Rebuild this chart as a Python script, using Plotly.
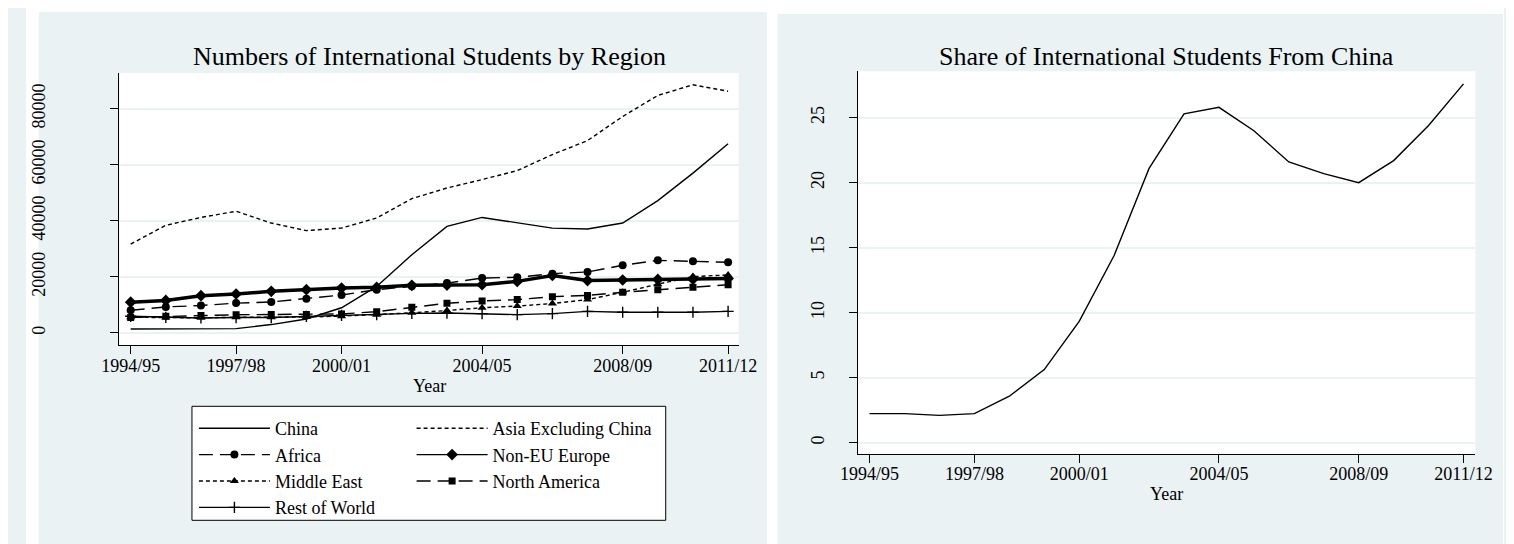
import plotly.graph_objects as go

# academic years on the x axis
years = ["1994/95", "1995/96", "1996/97", "1997/98", "1998/99", "1999/00",
         "2000/01", "2001/02", "2002/03", "2003/04", "2004/05", "2005/06",
         "2006/07", "2007/08", "2008/09", "2009/10", "2010/11", "2011/12"]
tick_years = ["1994/95", "1997/98", "2000/01", "2004/05", "2008/09", "2011/12"]

# student numbers by region
china = [1400, 1400, 1500, 1550, 3000, 5000, 9000, 16600, 27900, 38000,
         41200, 39200, 37400, 37100, 39200, 47200, 57000, 67500]
asia_ex_china = [31700, 38400, 41200, 43400, 39200, 36500, 37400, 41000, 47900, 51700,
                 54700, 57900, 63600, 68600, 77200, 84700, 88500, 86200]
africa = [8100, 9300, 9800, 10650, 11050, 12250, 13550, 15450, 16650, 17800,
          19600, 19850, 21150, 21750, 24150, 25900, 25550, 25200]
non_eu_europe = [11000, 11600, 13300, 13900, 14850, 15450, 16000, 16300, 17000, 17100,
                 17200, 18400, 20500, 18700, 18900, 19100, 19200, 19400]
middle_east = [5600, 5500, 5400, 5600, 5600, 5700, 6000, 6500, 7200, 8000,
               9000, 9600, 10500, 11900, 14500, 17400, 20100, 20700]
north_america = [5500, 5950, 6200, 6500, 6600, 6600, 6800, 7600, 9150, 10600,
                 11400, 11900, 12950, 13400, 14500, 15450, 16300, 17200]
rest_of_world = [5950, 5600, 5350, 5500, 5500, 5900, 6300, 6500, 7000, 7100,
                 6900, 6550, 6900, 7700, 7400, 7400, 7400, 7700]

# share of international students from china, percent
china_share = [2.23, 2.23, 2.1, 2.23, 3.57, 5.62, 9.33, 14.4, 21.1, 25.3,
               25.8, 24.0, 21.6, 20.7, 20.0, 21.7, 24.4, 27.6]

count_ticks = [0, 20000, 40000, 60000, 80000]
share_ticks = [0, 5, 10, 15, 20, 25]

W, H = 1514, 544
FONT = "Liberation Serif"
PANEL = "#EAF2F3"

def px_x(v):
    return v / W

def px_y(v):
    return 1 - v / H

fig = go.Figure()

# the non-EU europe line looks heavy in the original, legend sample stays thin
fig.add_trace(go.Scatter(x=years, y=non_eu_europe, mode="lines", showlegend=False,
                         line=dict(color="black", width=3.5), xaxis="x", yaxis="y"))

series = [
    ("China", china, dict(dash="solid"), None, "legend"),
    ("Asia Excluding China", asia_ex_china, dict(dash="4px,3px"), None, "legend2"),
    ("Africa", africa, dict(dash="14px,7px"), dict(symbol="circle", size=8), "legend"),
    ("Non-EU Europe", non_eu_europe, dict(dash="solid"), dict(symbol="diamond", size=9), "legend2"),
    ("Middle East", middle_east, dict(dash="4px,3px"), dict(symbol="triangle-up", size=8), "legend"),
    ("North America", north_america, dict(dash="14px,7px"), dict(symbol="square", size=7), "legend2"),
    ("Rest of World", rest_of_world, dict(dash="solid"),
     dict(symbol="cross-thin", size=8, line=dict(width=1.4, color="black")), "legend"),
]

for name, vals, line, marker, leg in series:
    line = dict(line, color="black", width=1.4)
    if marker is None:
        fig.add_trace(go.Scatter(x=years, y=vals, name=name, mode="lines", line=line,
                                 legend=leg, xaxis="x", yaxis="y"))
    else:
        marker = dict(marker, color="black")
        fig.add_trace(go.Scatter(x=years, y=vals, name=name, mode="lines+markers", line=line,
                                 marker=marker, legend=leg, xaxis="x", yaxis="y"))

fig.add_trace(go.Scatter(x=years, y=china_share, mode="lines", showlegend=False,
                         line=dict(color="black", width=1.4), xaxis="x2", yaxis="y2"))

axis_common = dict(
    showline=True, linecolor="black", linewidth=1, mirror=False,
    ticks="outside", ticklen=8, tickcolor="black", tickwidth=1,
    tickfont=dict(family=FONT, size=18, color="black"),
    gridcolor=PANEL, gridwidth=1.5, zeroline=False,
)

fig.update_layout(
    width=W, height=H,
    margin=dict(l=0, r=0, t=0, b=0),
    paper_bgcolor=PANEL, plot_bgcolor="white",
    font=dict(family=FONT, color="black"),
    xaxis=dict(axis_common, domain=[px_x(95.7), px_x(730)], anchor="y",
               type="category", range=[-0.32, 17.3], showgrid=False,
               tickmode="array", tickvals=tick_years, ticktext=tick_years,
               ticklabelstandoff=-4),
    yaxis=dict(axis_common, domain=[px_y(337.3), px_y(65)], anchor="x",
               range=[-4390, 92700], tickmode="array",
               tickvals=count_ticks, ticktext=[str(v) for v in count_ticks],
               tickangle=-90, ticklabelstandoff=58),
    xaxis2=dict(axis_common, domain=[px_x(852.3), px_x(1484.7)], anchor="y2",
                type="category", range=[-0.33, 17.34], showgrid=False,
                tickmode="array", tickvals=tick_years, ticktext=tick_years,
                ticklabelstandoff=-4),
    yaxis2=dict(axis_common, domain=[px_y(445.7), px_y(63.3)], anchor="x2",
                range=[-0.85, 28.57], tickmode="array",
                tickvals=share_ticks, ticktext=[str(v) for v in share_ticks],
                tickangle=-90, ticklabelstandoff=18),
    legend=dict(x=px_x(172), y=px_y(402), xanchor="left", yanchor="top",
                bgcolor="rgba(0,0,0,0)", borderwidth=0, itemwidth=71,
                font=dict(family=FONT, size=18, color="black"), tracegroupgap=0),
    legend2=dict(x=px_x(395), y=px_y(402), xanchor="left", yanchor="top",
                 bgcolor="rgba(0,0,0,0)", borderwidth=0, itemwidth=71,
                 font=dict(family=FONT, size=18, color="black"), tracegroupgap=0),
    showlegend=True,
)

# white gaps around the two grey panels, plus the legend box
white_rects = [(0, 0, W, 4), (0, 0, 13, H), (759, 0, 770, H), (1513, 0, W, H),
               (0, 543, 770, H), (770, 0, W, 6), (770, 541, W, H)]
for x0, y0, x1, y1 in white_rects:
    fig.add_shape(type="rect", xref="paper", yref="paper", layer="below",
                  x0=px_x(x0), x1=px_x(x1), y0=px_y(y1), y1=px_y(y0),
                  fillcolor="white", line=dict(width=0))
fig.add_shape(type="rect", xref="paper", yref="paper", layer="below",
              x0=px_x(170), x1=px_x(655.3), y0=px_y(512.3), y1=px_y(398.3),
              fillcolor="white", line=dict(color="black", width=1))

# titles and x axis labels
def label(text, x, y, size):
    fig.add_annotation(text=text, x=px_x(x), y=px_y(y), xref="paper", yref="paper",
                       showarrow=False, xanchor="center", yanchor="middle",
                       font=dict(family=FONT, size=size, color="black"))

label("Numbers of International Students by Region", 412.9, 48, 26)
label("Share of International Students From China", 1168.5, 48.5, 26)
label("Year", 412.9, 377.5, 18)
label("Year", 1168.5, 485.5, 18)

fig.write_html("out.html")
